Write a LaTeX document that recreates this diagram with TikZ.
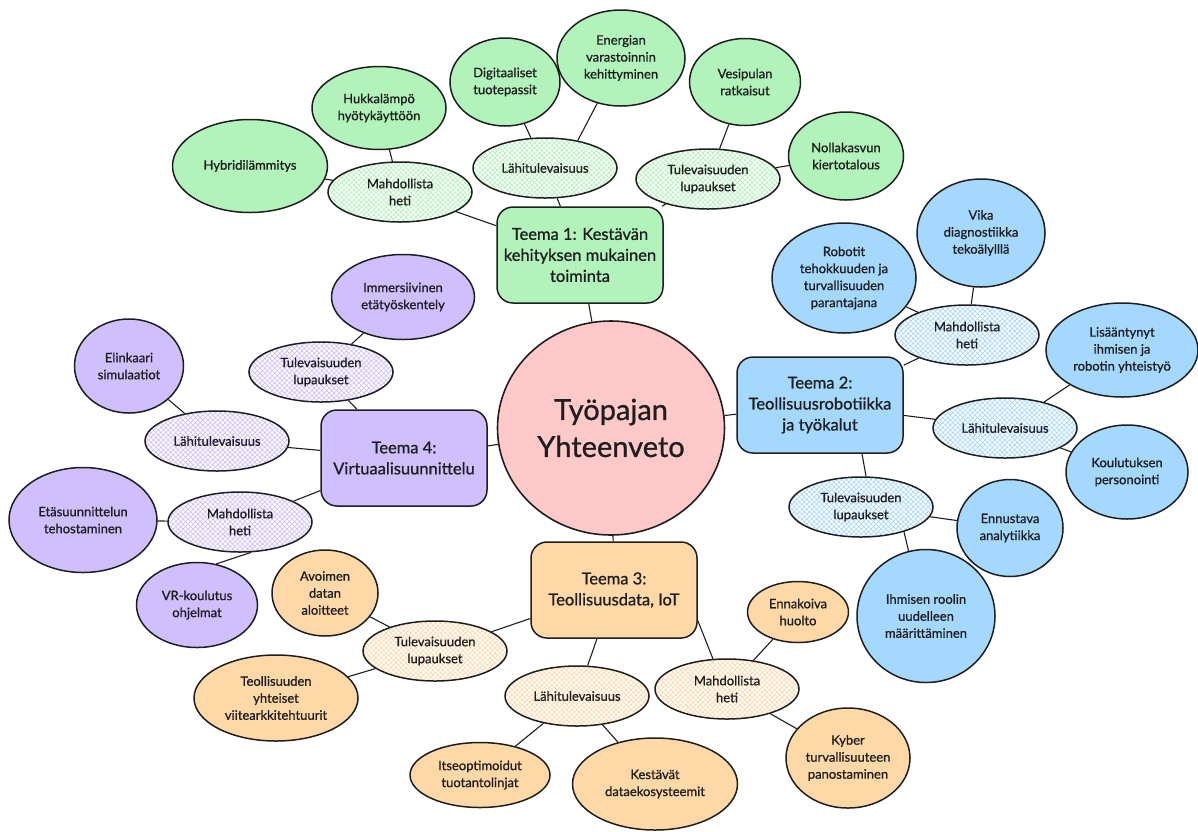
\documentclass[tikz,border=0pt]{standalone}
\usepackage{fontspec}
\setsansfont{Lato}[UprightFeatures={FakeBold=0.9}]
\usetikzlibrary{shapes.geometric}
\usetikzlibrary{patterns.meta}
\definecolor{ink}{HTML}{1E1E1E}
\definecolor{tgreen}{HTML}{B2F2BB}
\definecolor{tblue}{HTML}{A5D8FF}
\definecolor{torange}{HTML}{FFD8A8}
\definecolor{tpurple}{HTML}{D0BFFF}
\definecolor{tpink}{HTML}{FFC9C9}

\begin{document}
\begin{tikzpicture}[x=1pt, y=-1pt, font=\sffamily\fontsize{13}{17}\selectfont, text=ink,
  leaf/.style={ellipse, draw=ink, line width=1.5pt, fill=#1, inner sep=0pt, align=center},
  branch/.style={ellipse, draw=ink, line width=1.5pt, inner sep=0pt, align=center,
    minimum width=144pt, minimum height=60pt,
    pattern={Hatch[angle=45,distance=3.5pt,line width=0.7pt]}, pattern color=#1},
  theme/.style={rectangle, rounded corners=16pt, draw=ink, line width=1.5pt, fill=#1,
    align=center, minimum width=166pt, minimum height=96pt,
    font=\sffamily\fontsize{16.5}{21}\selectfont},
  link/.style={draw=ink, line width=1.1pt}]
\useasboundingbox (0,0) rectangle (1198,831);

% keskus ja teemat
\node[ellipse, draw=ink, line width=1.6pt, fill=tpink, minimum width=227pt, minimum height=214pt,
  align=center, font=\sffamily\fontsize{29}{37}\selectfont] (hub) at (611,428) {Työpajan\\Yhteenveto};
\node[theme=tgreen] (t1) at (580,255) {Teema 1: Kestävän\\kehityksen mukainen\\toiminta};
\node[theme=tblue] (t2) at (820,405) {Teema 2:\\Teollisuusrobotiikka\\ja työkalut};
\node[theme=torange] (t3) at (614,590) {Teema 3:\\Teollisuusdata, IoT};
\node[theme=tpurple] (t4) at (404,458) {Teema 4:\\Virtuaalisuunnittelu};

% teema 1
\node[branch=tgreen] (g_mh) at (400,192) {Mahdollista\\heti};
\node[branch=tgreen] (g_lt) at (545,168) {Lähitulevaisuus};
\node[branch=tgreen] (g_tl) at (708,179) {Tulevaisuuden\\lupaukset};
\node[leaf=tgreen, minimum width=155pt, minimum height=93pt] (hybrid) at (250,166) {Hybridilämmitys};
\node[leaf=tgreen, minimum width=134pt, minimum height=83pt] (hukka) at (379,108) {Hukkalämpö\\hyötykäyttöön};
\node[leaf=tgreen, minimum width=110pt, minimum height=88pt] (digi) at (505,82) {Digitaaliset\\tuotepassit};
\node[leaf=tgreen, minimum width=128pt, minimum height=96pt] (energia) at (621,58) {Energian\\varastoinnin\\kehittyminen};
\node[leaf=tgreen, minimum width=111pt, minimum height=87pt] (vesi) at (745,82) {Vesipulan\\ratkaisut};
\node[leaf=tgreen, minimum width=115pt, minimum height=88pt] (nolla) at (846,156) {Nollakasvun\\kiertotalous};

% teema 2
\node[branch=tblue] (b_mh) at (967,335) {Mahdollista\\heti};
\node[branch=tblue] (b_lt) at (1005,428) {Lähitulevaisuus};
\node[branch=tblue] (b_tl) at (861,507) {Tulevaisuuden\\lupaukset};
\node[leaf=tblue, minimum width=144pt, minimum height=110pt] (robotit) at (844,278) {Robotit\\tehokkuuden ja\\turvallisuuden\\parantajana};
\node[leaf=tblue, minimum width=128pt, minimum height=108pt] (vika) at (981,233) {Vika\\diagnostiikka\\tekoälylllä};
\node[leaf=tblue, minimum width=152pt, minimum height=94pt] (lisaa) at (1122,350) {Lisääntynyt\\ihmisen ja\\robotin yhteistyö};
\node[leaf=tblue, minimum width=122pt, minimum height=94pt] (koulutus) at (1127,472) {Koulutuksen\\personointi};
\node[leaf=tblue, minimum width=106pt, minimum height=97pt] (ennustava) at (1010,528) {Ennustava\\analytiikka};
\node[leaf=tblue, minimum width=138pt, minimum height=133pt] (rooli) at (926,616) {Ihmisen roolin\\uudelleen\\määrittäminen};

% teema 3
\node[branch=torange] (o_tl) at (435,651) {Tulevaisuuden\\lupaukset};
\node[branch=torange] (o_lt) at (577,696) {Lähitulevaisuus};
\node[branch=torange] (o_mh) at (727,689) {Mahdollista\\heti};
\node[leaf=torange, minimum width=106pt, minimum height=86pt] (avoin) at (325,593) {Avoimen\\datan\\aloitteet};
\node[leaf=torange, minimum width=164pt, minimum height=86pt] (viite) at (276,698) {Teollisuuden\\yhteiset\\viitearkkitehtuurit};
\node[leaf=torange, minimum width=140pt, minimum height=65pt] (itse) at (480,775) {Itseoptimoidut\\tuotantolinjat};
\node[leaf=torange, minimum width=165pt, minimum height=92pt] (kestavat) at (655,784) {Kestävät\\dataekosysteemit};
\node[leaf=torange, minimum width=101pt, minimum height=61pt] (ennakoiva) at (798,612) {Ennakoiva\\huolto};
\node[leaf=torange, minimum width=124pt, minimum height=100pt] (kyber) at (848,758) {Kyber\\turvallisuuteen\\panostaminen};

% teema 4
\node[branch=tpurple] (p_tl) at (321,372) {Tulevaisuuden\\lupaukset};
\node[branch=tpurple] (p_lt) at (217,441) {Lähitulevaisuus};
\node[branch=tpurple] (p_mh) at (240,522) {Mahdollista\\heti};
\node[leaf=tpurple, minimum width=143pt, minimum height=85pt] (immers) at (403,297) {Immersiivinen\\etätyöskentely};
\node[leaf=tpurple, minimum width=109pt, minimum height=94pt] (elinkaari) at (129,366) {Elinkaari\\simulaatiot};
\node[leaf=tpurple, minimum width=148pt, minimum height=105pt] (etasuun) at (83,520) {Etäsuunnittelun\\tehostaminen};
\node[leaf=tpurple, minimum width=121pt, minimum height=85pt] (vr) at (197,605) {VR-koulutus\\ohjelmat};

% yhteydet
\draw[link] (hub) -- (t1) (hub) -- (t2) (hub) -- (t3) (hub) -- (t4);
\draw[link] (t1) -- (g_mh) (t1) -- (g_lt) (t1) -- (g_tl);
\draw[link] (g_mh) -- (hybrid) (g_mh) -- (hukka)
            (g_lt) -- (digi) (g_lt.40) -- (energia)
            (g_tl) -- (vesi) (g_tl) -- (nolla);
\draw[link] (t2) -- (b_mh) (t2) -- (b_lt) ([xshift=42pt]t2.south) -- ([xshift=5pt]b_tl.north);
\draw[link] (b_mh) -- (robotit) (b_mh) -- (vika)
            (b_lt) -- (lisaa) (b_lt) -- (koulutus)
            (b_tl) -- (ennustava) (b_tl.-30) -- (rooli.105);
\draw[link] (t3) -- (o_tl) (t3) -- (o_lt) (t3.-20) -- (o_mh.115);
\draw[link] (o_tl) -- (avoin) (o_tl) -- (viite)
            (o_lt) -- (itse) (o_lt) -- (kestavat)
            (o_mh) -- (ennakoiva) (o_mh) -- (kyber);
\draw[link] (t4) -- (p_tl) (t4) -- (p_lt) (t4) -- (p_mh);
\draw[link] (p_tl) -- (immers) (p_lt) -- (elinkaari)
            (p_mh) -- (etasuun) (p_mh.-70) -- (vr.65);
\end{tikzpicture}
\end{document}
